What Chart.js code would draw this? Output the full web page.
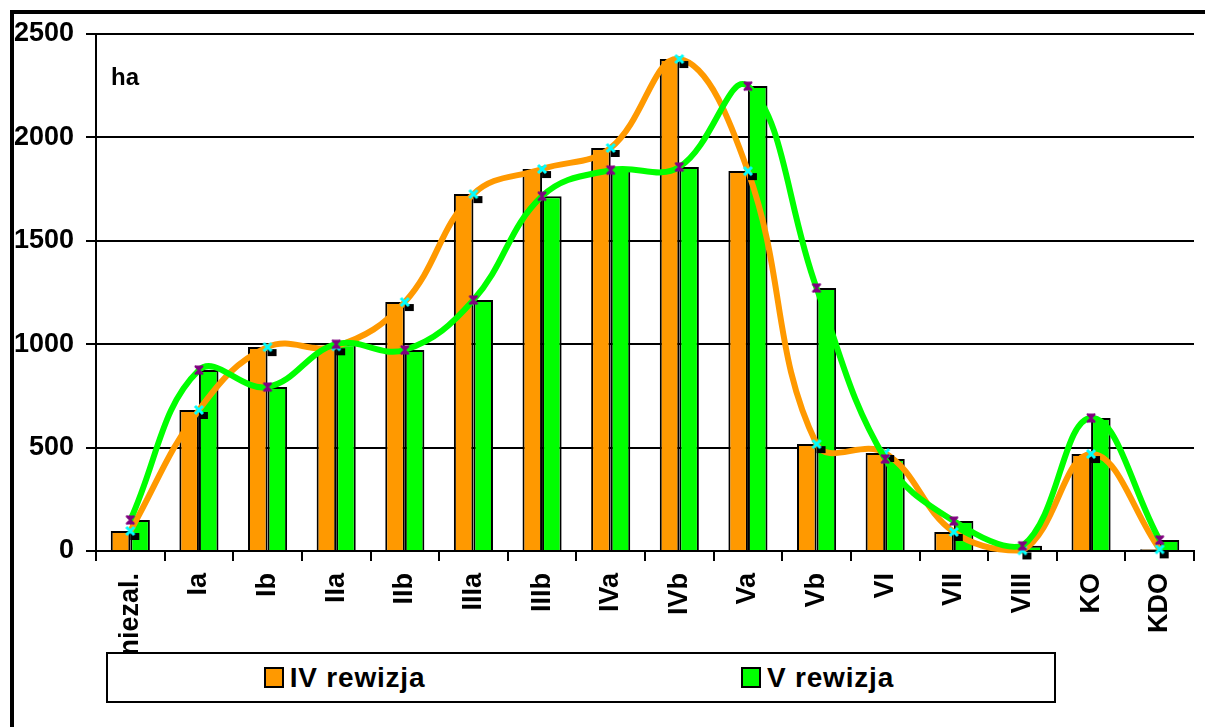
<!DOCTYPE html>
<html>
<head>
<meta charset="utf-8">
<script src="https://cdn.jsdelivr.net/npm/chart.js@4/dist/chart.umd.min.js"></script>
<style>
  body { margin: 0; background: #fff; overflow: hidden; width: 1205px; height: 727px; position: relative; }
  #frame { position: absolute; left: 10px; top: 10px; width: 1300px; height: 713px;
           border-left: 4px solid #000; border-top: 4px solid #000; border-bottom: 2px solid #777; }
  #stockChart { position: absolute; left: 0; top: 0; }
  #legend { position: absolute; left: 106px; top: 652px; width: 946px; height: 47px;
            border: 2px solid #000; background: #fff; display: flex;
            font: bold 28px "Liberation Sans", Arial, sans-serif; letter-spacing: 0.8px; color: #000; }
  #legend .item { flex: 1; display: flex; align-items: center; justify-content: center; }
  #legend .box { width: 16px; height: 17px; border: 2px solid #000; margin-right: 6px; }
</style>
</head>
<body>
<div id="frame"></div>
<canvas id="stockChart" width="1205" height="727"></canvas>
<div id="legend"></div>
<script>
const categories = ['niezal.', 'Ia', 'Ib', 'IIa', 'IIb', 'IIIa', 'IIIb', 'IVa', 'IVb', 'Va', 'Vb', 'VI', 'VII', 'VIII', 'KO', 'KDO'];
const rewizjaIV = [97, 682, 986, 990, 1204, 1726, 1847, 1949, 2379, 1837, 517, 474, 92, 3, 469, 8];
const rewizjaV = [150, 875, 793, 1000, 972, 1214, 1716, 1842, 1857, 2248, 1272, 445, 145, 25, 643, 53];
const yTicks = [0, 500, 1000, 1500, 2000, 2500];

const ORANGE = '#FF9900';
const GREEN = '#00FF00';
const FONT = '"Liberation Sans", Arial, sans-serif';

// marker for IV rewizja: black square + cyan cross
function crossMarker() {
    const c = document.createElement('canvas');
    c.width = 26; c.height = 26;
    const g = c.getContext('2d');
    g.fillStyle = '#000';
    g.fillRect(13, 15, 9, 7);
    g.strokeStyle = '#00FFFF';
    g.lineWidth = 3;
    g.beginPath();
    g.moveTo(9, 9); g.lineTo(17, 17);
    g.moveTo(17, 9); g.lineTo(9, 17);
    g.stroke();
    return c;
}

// marker for V rewizja: purple hourglass
function hourglassMarker() {
    const c = document.createElement('canvas');
    c.width = 20; c.height = 20;
    const g = c.getContext('2d');
    g.fillStyle = '#800080';
    g.beginPath();
    g.moveTo(5.5, 5.5); g.lineTo(14.5, 5.5); g.lineTo(5.5, 14.5); g.lineTo(14.5, 14.5);
    g.closePath();
    g.fill();
    g.strokeStyle = '#800080';
    g.lineWidth = 2;
    g.beginPath();
    g.moveTo(6, 6); g.lineTo(14, 14); g.moveTo(14, 6); g.lineTo(6, 14);
    g.stroke();
    return c;
}

const haLabel = {
    id: 'haLabel',
    afterDraw(chart) {
        const ctx = chart.ctx;
        ctx.save();
        ctx.fillStyle = '#000';
        ctx.font = 'bold 24px ' + FONT;
        ctx.textBaseline = 'alphabetic';
        ctx.fillText('ha', 111, 85);
        ctx.restore();
    }
};

const ctx = document.getElementById('stockChart').getContext('2d');
window.myChart = new Chart(ctx, {
    type: 'bar',
    data: {
        labels: categories,
        datasets: [
            {
                label: 'V rewizja (linia)',
                type: 'line',
                data: rewizjaV,
                borderColor: GREEN,
                borderWidth: 6,
                tension: 0.4,
                pointStyle: hourglassMarker(),
                pointRadius: 5,
                clip: 12,
                order: 1
            },
            {
                label: 'IV rewizja (linia)',
                type: 'line',
                data: rewizjaIV,
                borderColor: ORANGE,
                borderWidth: 6,
                tension: 0.4,
                pointStyle: crossMarker(),
                pointRadius: 5,
                clip: 12,
                order: 2
            },
            {
                label: 'IV rewizja',
                data: rewizjaIV,
                backgroundColor: ORANGE,
                borderColor: '#000',
                borderWidth: 2,
                borderSkipped: 'bottom',
                barPercentage: 1,
                categoryPercentage: 0.57,
                order: 3
            },
            {
                label: 'V rewizja',
                data: rewizjaV,
                backgroundColor: GREEN,
                borderColor: '#000',
                borderWidth: 2,
                borderSkipped: 'bottom',
                barPercentage: 1,
                categoryPercentage: 0.57,
                order: 3
            }
        ]
    },
    options: {
        responsive: false,
        animation: false,
        layout: { padding: { top: 34, right: 2, left: 0, bottom: 0 } },
        plugins: {
            legend: { display: false },
            tooltip: { enabled: false }
        },
        scales: {
            x: {
                grid: { drawOnChartArea: false, drawTicks: true, tickLength: 10, offset: true, color: '#000', lineWidth: 2 },
                border: { display: true, color: '#000', width: 2 },
                ticks: { color: '#000', font: { family: FONT, size: 27, weight: 'bold' }, minRotation: 90, maxRotation: 90, padding: 12, autoSkip: false },
                afterFit: (scale) => { scale.height = 176; }
            },
            y: {
                min: 0,
                max: 2500,
                afterBuildTicks: (scale) => { scale.ticks = yTicks.map(v => ({ value: v })); },
                grid: { color: '#000', lineWidth: 2, tickLength: 10 },
                border: { display: true, color: '#000', width: 2 },
                ticks: { color: '#000', font: { family: FONT, size: 27, weight: 'bold' }, padding: 12, callback: (v) => String(v) },
                afterFit: (scale) => { scale.width = 96; }
            }
        }
    },
    plugins: [haLabel]
});

// Legend
const legend = document.getElementById('legend');
window.myChart.data.datasets.filter(d => d.type !== 'line').forEach(d => {
    const item = document.createElement('div');
    item.className = 'item';
    item.innerHTML = `<span class="box" style="background:${d.backgroundColor}"></span><span>${d.label}</span>`;
    legend.appendChild(item);
});
</script>
</body>
</html>
